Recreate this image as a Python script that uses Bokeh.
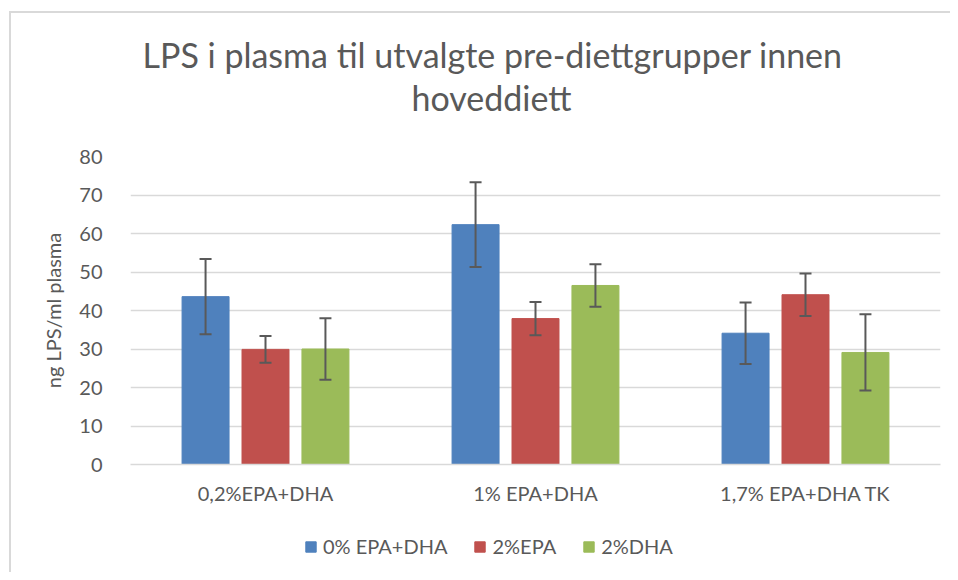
from bokeh.plotting import figure
from bokeh.models import ColumnDataSource, Whisker, TeeHead, Title, Legend, LegendItem, FactorRange, Range1d
from bokeh.transform import dodge
from bokeh.layouts import column
from bokeh.embed import file_html
from bokeh.resources import INLINE

categories = ["0,2%EPA+DHA", "1% EPA+DHA", "1,7% EPA+DHA TK"]
series_names = ["0% EPA+DHA", "2%EPA", "2%DHA"]
means_0 = [43.6, 62.3, 34.1]
err_0 = [9.8, 11.0, 8.0]
means_epa = [29.9, 37.9, 44.1]
err_epa = [3.5, 4.3, 5.5]
means_dha = [30.0, 46.5, 29.1]
err_dha = [8.0, 5.5, 9.9]
y_ticks = [0, 10, 20, 30, 40, 50, 60, 70, 80]

colors = ["#4F81BD", "#C0504D", "#9BBB59"]
offsets = [-0.222, 0.0, 0.222]
FONT = "Lato"
TXT = "#595959"
BORDER = "2px solid #d9d9d9"

p = figure(x_range=FactorRange(*categories, range_padding=0), y_range=Range1d(0, 80),
           width=941, height=509, output_backend="svg", toolbar_location=None,
           min_border_left=119, min_border_right=12, min_border_top=143, min_border_bottom=58)
p.outline_line_color = None
p.styles = {"border-left": BORDER, "border-top": BORDER}

series = [(means_0, err_0), (means_epa, err_epa), (means_dha, err_dha)]
for (m, e), col, off in zip(series, colors, offsets):
    src = ColumnDataSource(dict(cat=categories, val=m,
                                upper=[a + b for a, b in zip(m, e)],
                                lower=[a - b for a, b in zip(m, e)]))
    p.vbar(x=dodge("cat", off, range=p.x_range), top="val", width=0.174, source=src,
           fill_color=col, line_color=col)
    w = Whisker(source=src, base=dodge("cat", off, range=p.x_range), upper="upper", lower="lower",
                line_color="#595959", line_width=2, level="overlay",
                upper_head=TeeHead(size=12, line_color="#595959", line_width=2),
                lower_head=TeeHead(size=12, line_color="#595959", line_width=2))
    p.add_layout(w)

p.yaxis.ticker = y_ticks
p.yaxis.axis_line_color = None
p.yaxis.major_tick_line_color = None
p.yaxis.minor_tick_line_color = None
p.yaxis.major_label_text_font = FONT
p.yaxis.major_label_text_font_size = "20px"
p.yaxis.major_label_text_color = TXT
p.yaxis.major_label_standoff = 22
p.yaxis.axis_label = "ng LPS/ml plasma"
p.yaxis.axis_label_text_font = FONT
p.yaxis.axis_label_text_font_size = "20px"
p.yaxis.axis_label_text_font_style = "normal"
p.yaxis.axis_label_text_color = TXT
p.yaxis.axis_label_standoff = 11

p.xaxis.axis_line_color = "#d9d9d9"
p.xaxis.axis_line_width = 1.5
p.xaxis.major_tick_line_color = None
p.xaxis.minor_tick_line_color = None
p.xaxis.major_label_text_font = FONT
p.xaxis.major_label_text_font_size = "20px"
p.xaxis.major_label_text_color = TXT
p.xaxis.major_label_standoff = 10

p.xgrid.grid_line_color = None
p.ygrid.grid_line_color = "#d9d9d9"
p.ygrid.grid_line_width = 1.5

# spacer between plot area and the two-line title
p.add_layout(Title(text=" ", text_font_size="1px", standoff=35.5), "above")
p.add_layout(Title(text="hoveddiett", align="left", offset=281, text_font=FONT,
                   text_font_size="34px", text_font_style="normal", text_color=TXT,
                   standoff=0), "above")
p.add_layout(Title(text="LPS i plasma til utvalgte pre-diettgrupper innen", align="left", offset=12,
                   text_font=FONT, text_font_size="34px", text_font_style="normal",
                   text_color=TXT, standoff=0), "above")

# legend strip below the chart
lg = figure(width=941, height=52, output_backend="svg", toolbar_location=None,
            x_axis_type=None, y_axis_type=None, x_range=Range1d(0, 1), y_range=Range1d(0, 1),
            min_border=0)
lg.outline_line_color = None
lg.grid.grid_line_color = None
lg.styles = {"border-left": BORDER}
items = []
for col, name in zip(colors, series_names):
    r = lg.vbar(x=[5], top=[-5], bottom=[-6], width=0.1, fill_color=col, line_color=col)
    items.append(LegendItem(label=name, renderers=[r]))
legend = Legend(items=items, orientation="horizontal", location=(174, 14),
                label_text_font=FONT, label_text_font_size="20px", label_text_color=TXT,
                glyph_width=13, glyph_height=13, spacing=26, label_standoff=6,
                border_line_color=None, background_fill_alpha=0, margin=0)
lg.add_layout(legend, "center")

layout = column(p, lg, spacing=0, styles={"padding-left": "9px", "padding-top": "11px"})
open("out.html", "w").write(file_html(layout, INLINE))
